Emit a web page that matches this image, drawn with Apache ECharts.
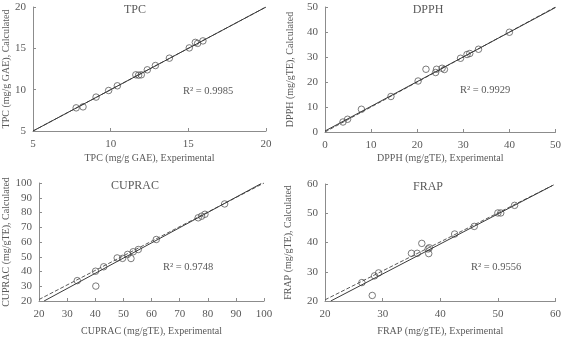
<!DOCTYPE html>
<html>
<head>
<meta charset="utf-8">
<script src="https://cdn.jsdelivr.net/npm/echarts@6/dist/echarts.min.js"></script>
<style>
  html, body { margin: 0; padding: 0; background: #fff; }
  #chart { width: 564px; height: 337px; }
</style>
</head>
<body>
<div id="chart"></div>
<script>
// values
var tpcExp = [7.78, 8.22, 9.06, 9.87, 10.43, 11.62, 11.8, 11.97, 12.36, 12.88, 13.78, 15.06, 15.45, 15.6, 15.94];
var tpcCalc = [7.8, 7.92, 9.1, 9.9, 10.47, 11.8, 11.75, 11.8, 12.4, 12.92, 13.81, 15.05, 15.72, 15.6, 15.9];

var dpphExp = [3.9, 4.9, 7.9, 14.3, 20.2, 21.9, 24.0, 24.2, 25.4, 25.9, 29.4, 30.8, 31.4, 33.3, 40.0];
var dpphCalc = [4.0, 5.1, 9.1, 14.2, 20.4, 25.1, 23.8, 25.1, 25.5, 25.0, 29.5, 31.0, 31.4, 33.1, 39.9];

var cupracExp = [33.6, 40.1, 40.2, 43.0, 47.8, 49.7, 51.5, 52.7, 53.5, 55.3, 61.7, 76.6, 77.8, 79.0, 86.0];
var cupracCalc = [33.8, 40.2, 30.1, 43.2, 49.2, 48.9, 51.6, 48.8, 53.4, 54.9, 61.7, 76.4, 77.5, 78.8, 85.8];

var frapExp = [26.4, 28.2, 28.6, 29.3, 35.0, 36.0, 36.8, 37.9, 38.1, 38.0, 42.5, 45.9, 50.0, 50.5, 52.9];
var frapCalc = [26.3, 21.9, 28.6, 29.6, 36.3, 36.3, 39.7, 37.8, 38.2, 36.2, 42.9, 45.5, 50.1, 50.1, 52.7];

// line end points [x, y]
var tpcSolid = [[5, 5], [20, 20]];
var tpcDashed = [[5, 5], [20, 20]];
var dpphSolid = [[0, 0.4], [50, 49.8]];
var dpphDashed = [[0, 0], [50, 50]];
var cupracSolid = [[21.8, 20], [99, 99.6]];
var cupracDashed = [[20, 21], [100, 100]];
var frapSolid = [[21, 20], [59.4, 59.4]];
var frapDashed = [[20, 20.4], [60, 60]];

var panelTitles = ['TPC', 'DPPH', 'CUPRAC', 'FRAP'];
var r2Labels = ['R\u00b2 = 0.9985', 'R\u00b2 = 0.9929', 'R\u00b2 = 0.9748', 'R\u00b2 = 0.9556'];
var xNames = ['TPC (mg/g GAE), Experimental', 'DPPH (mg/gTE), Experimental',
              'CUPRAC (mg/gTE), Experimental', 'FRAP (mg/gTE), Experimental'];
var yNames = ['TPC (mg/g GAE), Calculated', 'DPPH (mg/gTE), Calculated',
              'CUPRAC (mg/gTE), Calculated', 'FRAP (mg/gTE), Calculated'];
var axisMin = [5, 0, 20, 20];
var axisMax = [20, 50, 100, 60];
var axisStep = [5, 10, 10, 10];

var FONT = 'Liberation Serif';
var TXT = '#595959';

var grids = [
    { left: 33, top: 7, width: 233, height: 124 },
    { left: 325, top: 7, width: 233, height: 125 },
    { left: 39, top: 183, width: 225, height: 125 },
    { left: 325, top: 184, width: 233, height: 125 }
];
var yGaps = [22, 30, 28, 32];
var xGaps = [22, 21, 25, 25];

function makeAxis(i, isX) {
    return {
        type: 'value',
        gridIndex: i,
        min: axisMin[i],
        max: axisMax[i],
        interval: axisStep[i],
        name: isX ? xNames[i] : yNames[i],
        nameLocation: 'middle',
        nameGap: isX ? xGaps[i] : yGaps[i],
        nameTextStyle: { fontFamily: FONT, fontSize: 10, color: TXT },
        axisLine: { show: true, lineStyle: { color: '#8c8c8c', width: 1 } },
        axisTick: { show: true, inside: true, length: 3, lineStyle: { color: '#8c8c8c' } },
        axisLabel: { fontFamily: FONT, fontSize: 11, color: TXT, margin: isX ? 8 : 7 },
        splitLine: { show: false }
    };
}

var xAxes = [], yAxes = [], series = [], graphics = [];
var sets = [
    [tpcExp, tpcCalc, tpcSolid, tpcDashed],
    [dpphExp, dpphCalc, dpphSolid, dpphDashed],
    [cupracExp, cupracCalc, cupracSolid, cupracDashed],
    [frapExp, frapCalc, frapSolid, frapDashed]
];

for (var i = 0; i < 4; i++) {
    xAxes.push(makeAxis(i, true));
    yAxes.push(makeAxis(i, false));
    var pts = [];
    for (var k = 0; k < sets[i][0].length; k++) {
        pts.push([sets[i][0][k], sets[i][1][k]]);
    }
    series.push({
        type: 'line', xAxisIndex: i, yAxisIndex: i, data: sets[i][3],
        showSymbol: false, silent: true,
        lineStyle: { color: '#5a5a5a', width: 1, type: [4, 2] }
    });
    series.push({
        type: 'line', xAxisIndex: i, yAxisIndex: i, data: sets[i][2],
        showSymbol: false, silent: true,
        lineStyle: { color: '#3a3a3a', width: 1 }
    });
    series.push({
        type: 'scatter', xAxisIndex: i, yAxisIndex: i, data: pts,
        symbol: 'circle', symbolSize: 6.5,
        itemStyle: { color: 'transparent', borderColor: '#5a5a5a', borderWidth: 1 }
    });
}

// panel titles and R² notes
var titlePos = [[135, 10], [428, 10], [135, 186], [428, 187]];
var r2Pos = [[183, 91], [460, 90], [163, 267], [471, 267]];
for (var j = 0; j < 4; j++) {
    graphics.push({
        type: 'text', x: titlePos[j][0], y: titlePos[j][1],
        style: { text: panelTitles[j], fontFamily: FONT, fontSize: 12, fill: TXT,
                 align: 'center', verticalAlign: 'middle' }
    });
    graphics.push({
        type: 'text', x: r2Pos[j][0], y: r2Pos[j][1],
        style: { text: r2Labels[j], fontFamily: FONT, fontSize: 10.5, fill: TXT,
                 align: 'left', verticalAlign: 'middle' }
    });
}

var chart = echarts.init(document.getElementById('chart'));
chart.setOption({
    animation: false,
    backgroundColor: '#ffffff',
    grid: grids,
    xAxis: xAxes,
    yAxis: yAxes,
    series: series,
    graphic: graphics
});
</script>
</body>
</html>
